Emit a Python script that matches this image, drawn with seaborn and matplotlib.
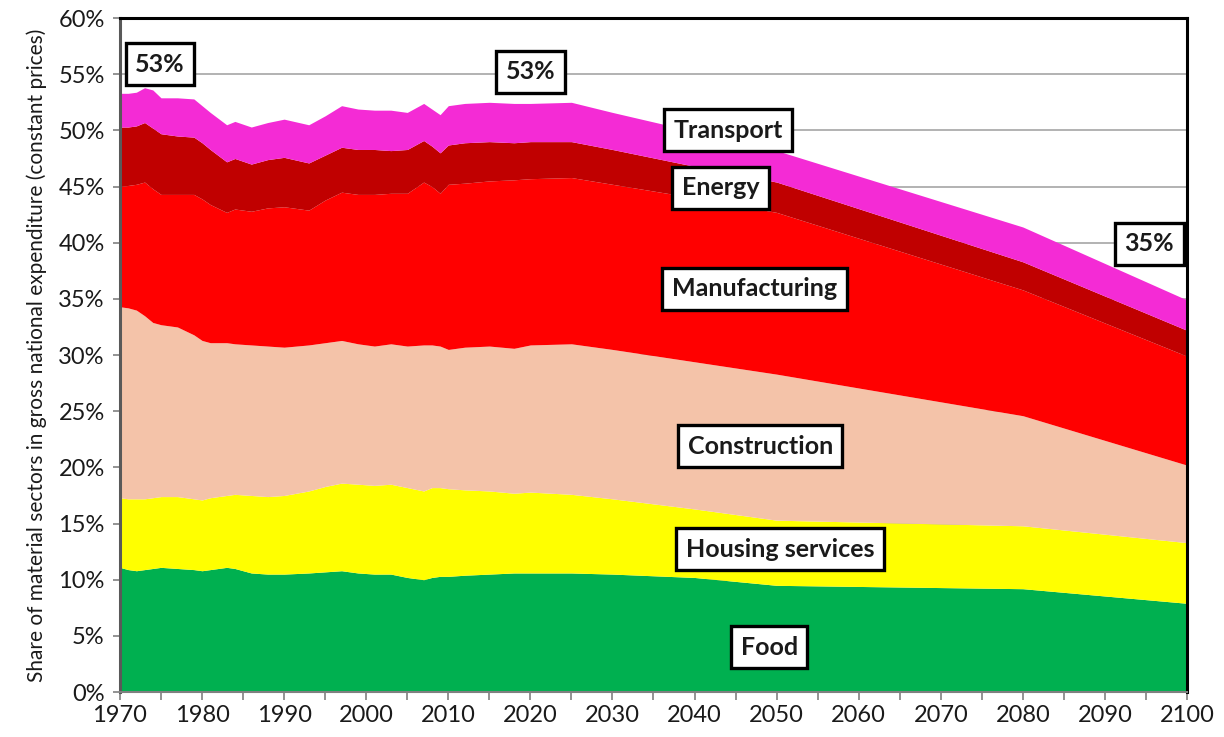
import numpy as np
import pandas as pd
import matplotlib
matplotlib.use("Agg")
import matplotlib.pyplot as plt
import seaborn as sns

# ---- data (upper boundary of each stacked band, % of GNE) ----
years = [1970, 1971, 1972, 1973, 1974, 1975, 1977, 1979, 1980, 1981, 1983, 1984,
         1986, 1988, 1990, 1993, 1995, 1997, 1999, 2001, 2003, 2005, 2007, 2008,
         2009, 2010, 2012, 2015, 2018, 2020, 2025, 2030, 2040, 2050, 2080, 2100]

food_top = [11.1, 10.9, 10.8, 10.9, 11.0, 11.1, 11.0, 10.9, 10.8, 10.9, 11.1, 11.0,
            10.6, 10.5, 10.5, 10.6, 10.7, 10.8, 10.6, 10.5, 10.5, 10.2, 10.0, 10.2,
            10.3, 10.3, 10.4, 10.5, 10.6, 10.6, 10.6, 10.5, 10.2, 9.5, 9.2, 7.9]

housing_top = [17.3, 17.2, 17.2, 17.2, 17.3, 17.4, 17.4, 17.2, 17.1, 17.3, 17.5, 17.6,
               17.5, 17.4, 17.5, 17.9, 18.3, 18.6, 18.5, 18.4, 18.5, 18.2, 17.9, 18.2,
               18.2, 18.1, 18.0, 17.9, 17.7, 17.8, 17.6, 17.2, 16.3, 15.3, 14.8, 13.3]

construction_top = [34.3, 34.2, 34.0, 33.5, 32.9, 32.7, 32.5, 31.8, 31.3, 31.1, 31.1, 31.0,
                    30.9, 30.8, 30.7, 30.9, 31.1, 31.3, 31.0, 30.8, 31.0, 30.8, 30.9, 30.9,
                    30.8, 30.5, 30.7, 30.8, 30.6, 30.9, 31.0, 30.5, 29.4, 28.3, 24.6, 20.2]

manufacturing_top = [45.0, 45.1, 45.2, 45.4, 44.8, 44.3, 44.3, 44.3, 43.9, 43.4, 42.7, 43.0,
                     42.8, 43.1, 43.2, 42.9, 43.8, 44.5, 44.3, 44.3, 44.4, 44.4, 45.4, 45.0,
                     44.4, 45.2, 45.3, 45.5, 45.6, 45.7, 45.8, 45.2, 44.0, 42.7, 35.8, 29.9]

energy_top = [50.3, 50.3, 50.4, 50.7, 50.2, 49.7, 49.5, 49.4, 48.9, 48.3, 47.2, 47.5,
              47.0, 47.4, 47.6, 47.1, 47.8, 48.5, 48.3, 48.3, 48.2, 48.3, 49.1, 48.6,
              48.0, 48.7, 48.9, 49.0, 48.9, 49.0, 49.0, 48.3, 46.8, 45.4, 38.3, 32.2]

transport_top = [53.3, 53.3, 53.4, 53.8, 53.6, 52.9, 52.9, 52.8, 52.2, 51.6, 50.5, 50.8,
                 50.3, 50.7, 51.0, 50.5, 51.3, 52.2, 51.9, 51.8, 51.8, 51.6, 52.4, 51.9,
                 51.4, 52.2, 52.4, 52.5, 52.4, 52.4, 52.5, 51.6, 49.9, 48.2, 41.4, 34.9]

sectors = ["Food", "Housing services", "Construction", "Manufacturing", "Energy", "Transport"]
colors = ["#00B050", "#FFFF00", "#F4C3A9", "#FF0000", "#C00000", "#F42BD5"]

# label annotations: (text, year, value)
sector_labels = [("Transport", 2044.1, 50.0), ("Energy", 2043.2, 44.9),
                 ("Manufacturing", 2047.3, 35.9), ("Construction", 2048.0, 21.9),
                 ("Housing services", 2050.4, 12.7), ("Food", 2049.1, 4.0)]
total_labels = [("53%", 1974.9, 55.9), ("53%", 2020.0, 55.2), ("35%", 2095.4, 39.9)]

# ---- derive band thicknesses ----
tops = np.array([food_top, housing_top, construction_top, manufacturing_top,
                 energy_top, transport_top])
shares = np.diff(np.vstack([np.zeros(len(years)), tops]), axis=0)
df = pd.DataFrame(shares.T, columns=sectors)
df.insert(0, "Year", years)

sns.set_theme(style="white")
plt.rcParams["font.family"] = ["Lato", "DejaVu Sans"]

fig = plt.figure(figsize=(12.24, 7.37), dpi=100)
ax = fig.add_axes([0.098, 0.061, 0.8718, 0.9145])

ax.stackplot(df["Year"], [df[s] for s in sectors], colors=colors, linewidth=0, zorder=2)

ax.set_xlim(1970, 2100)
ax.set_ylim(0, 60)
ax.set_yticks(range(0, 61, 5))
ax.set_yticklabels([f"{v}%" for v in range(0, 61, 5)])
ax.set_xticks(range(1970, 2101, 10))
ax.set_xticks(range(1975, 2100, 10), minor=True)

ax.yaxis.grid(True, color="#A6A6A6", linewidth=1.2, zorder=0)
ax.xaxis.grid(False)
ax.set_axisbelow(True)

ax.tick_params(axis="x", which="both", direction="out", length=6, width=1.2,
               color="#808080", bottom=True, labelsize=17, labelcolor="#1a1a1a", pad=3)
ax.tick_params(axis="y", which="both", direction="out", length=5, width=1.2,
               color="#808080", left=True, labelsize=17, labelcolor="#1a1a1a", pad=6)

for side in ["top", "right"]:
    ax.spines[side].set_color("black")
    ax.spines[side].set_linewidth(2.2)
ax.spines["left"].set_color("#595959")
ax.spines["left"].set_linewidth(2.2)
ax.spines["bottom"].set_color("#808080")
ax.spines["bottom"].set_linewidth(1.5)
for sp in ax.spines.values():
    sp.set_zorder(5)

ax.set_ylabel("Share of material sectors in gross national expenditure (constant prices)",
              fontsize=15, color="#1a1a1a", labelpad=8)

box = dict(boxstyle="square,pad=0.38", fc="white", ec="black", lw=2.4)
for txt, x, y in sector_labels + total_labels:
    ax.text(x, y, txt, ha="center", va="center", fontsize=18, fontweight="bold",
            color="#1a1a1a", bbox=box, zorder=6)

fig.savefig("out.png", dpi=100)
